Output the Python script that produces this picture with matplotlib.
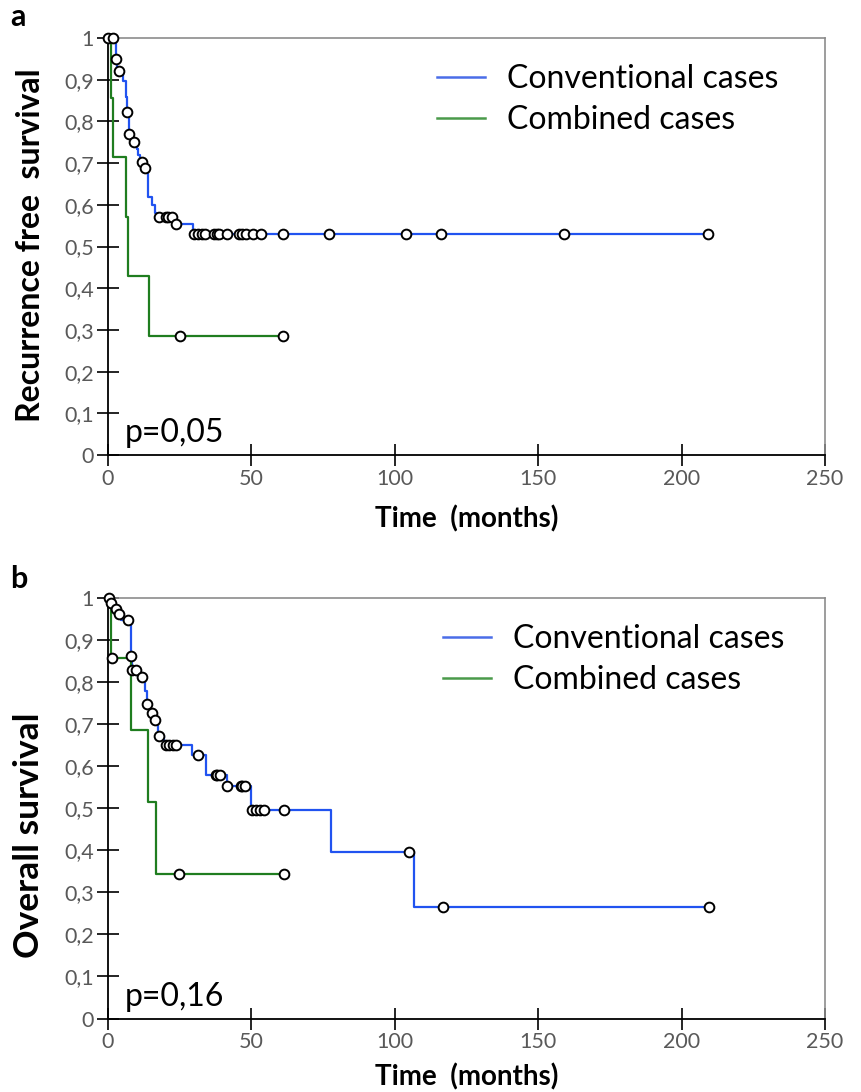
import numpy as np
import matplotlib
matplotlib.use('Agg')
import matplotlib.pyplot as plt

plt.rcParams['font.family'] = ['Lato', 'DejaVu Sans']

# --- panel a: recurrence free survival ---
a_conv_t = [0, 1.9, 2.7, 3.3, 5.4, 6.3, 6.5, 7.2, 8.0, 10.0, 10.6, 11.2, 12.5, 13.9, 15.3, 16.4, 17.0, 23.3, 29.5, 209.3]
a_conv_s = [1.0, 1.0, 0.949, 0.922, 0.897, 0.859, 0.822, 0.769, 0.751, 0.735, 0.719, 0.702, 0.688, 0.619, 0.600, 0.580, 0.571, 0.553, 0.529, 0.529]
a_conv_cens = [0, 1.7, 2.9, 3.9, 6.7, 7.4, 9.0, 11.7, 12.9, 17.7, 20.1, 21.0, 22.2, 23.6,
               29.9, 31.3, 32.6, 33.8, 36.9, 38.1, 38.7, 41.6, 45.7, 46.8, 48.0, 50.5, 53.5,
               61.0, 77.0, 103.8, 116.1, 159.0, 209.3]
a_comb_t = [0, 1.2, 1.8, 6.3, 6.9, 14.2, 61.0]
a_comb_s = [1.0, 0.857, 0.714, 0.571, 0.429, 0.286, 0.286]
a_comb_cens = [25.1, 61.0]

# --- panel b: overall survival ---
b_conv_t = [0, 0.8, 2.5, 3.5, 4.5, 8.0, 8.3, 10.5, 13.0, 13.5, 14.8, 16.0, 17.5, 19.5, 29.4, 34.0, 41.4, 49.8, 77.9, 106.7, 209.5]
b_conv_s = [1.0, 0.987, 0.974, 0.961, 0.947, 0.861, 0.828, 0.812, 0.778, 0.748, 0.727, 0.711, 0.671, 0.651, 0.627, 0.580, 0.552, 0.497, 0.397, 0.265, 0.265]
b_conv_cens = [0.2, 1.1, 2.9, 3.8, 6.9, 8.1, 8.4, 9.8, 11.7, 13.7, 15.2, 16.3, 17.8, 20.1, 21.2,
               22.6, 23.8, 31.5, 37.5, 38.1, 38.9, 41.6, 46.2, 46.8, 47.6, 50.2, 51.5, 52.9,
               54.4, 61.2, 104.8, 116.9, 209.5]
b_comb_t = [0, 1.0, 7.9, 14.0, 16.9, 61.2]
b_comb_s = [1.0, 0.857, 0.686, 0.514, 0.343, 0.343]
b_comb_cens = [1.3, 24.7, 61.2]

xticks = [0, 50, 100, 150, 200, 250]
yticks = [0, 0.1, 0.2, 0.3, 0.4, 0.5, 0.6, 0.7, 0.8, 0.9, 1.0]
ytick_labels = ['0', '0,1', '0,2', '0,3', '0,4', '0,5', '0,6', '0,7', '0,8', '0,9', '1']

BLUE = '#2153f0'
GREEN = '#1f7d1f'


def surv_at(t_steps, s_steps, t):
    idx = np.searchsorted(t_steps, t, side='right') - 1
    return np.asarray(s_steps)[idx]


def km_panel(ax, conv, comb, ylabel, ylab_size, ylab_y, xlab_pad, ptext, leg_x, leg_y):
    for (t, s, c), col, lab, lcol in [(conv, BLUE, 'Conventional cases', '#4a6de8'),
                                      (comb, GREEN, 'Combined cases', '#4a9a4a')]:
        ax.step(t, s, where='post', color=col, lw=1.6, zorder=2)
        ax.plot([], [], color=lcol, lw=1.8, label=lab)
    for (t, s, c) in [comb, conv]:
        ax.plot(c, surv_at(t, s, c), 'o', ms=7, mfc='white', mec='black', mew=1.4,
                clip_on=False, zorder=4)

    ax.set_xlim(0, 250)
    ax.set_ylim(0, 1)
    ax.set_xticks(xticks)
    ax.set_yticks(yticks)
    ax.set_yticklabels(ytick_labels)
    ax.tick_params(direction='inout', length=16, width=1.2, color='black',
                   labelsize=15.5, labelcolor='#595959', pad=2)
    for sp in ['left', 'bottom']:
        ax.spines[sp].set_color('black')
        ax.spines[sp].set_linewidth(1.3)
    for sp in ['top', 'right']:
        ax.spines[sp].set_color('#8c8c8c')
        ax.spines[sp].set_linewidth(1.2)
    ax.set_xlabel('Time  (months)', fontsize=20, fontweight='bold', labelpad=xlab_pad)
    ax.set_ylabel(ylabel, fontsize=ylab_size, fontweight='bold')
    ax.yaxis.set_label_coords(-0.088, ylab_y)
    ax.text(0.024, 0.052, ptext, transform=ax.transAxes, fontsize=23, va='center')
    ax.legend(loc='upper left', bbox_to_anchor=(leg_x, leg_y), frameon=False, fontsize=23,
              handlelength=1.5, handletextpad=0.7, labelspacing=0.33,
              borderpad=0, borderaxespad=0)


fig = plt.figure(figsize=(8.62, 10.92), dpi=100)
ax1 = fig.add_axes([0.1253, 0.5833, 0.8318, 0.3819])
ax2 = fig.add_axes([0.1253, 0.0673, 0.8318, 0.3851])

km_panel(ax1, (a_conv_t, a_conv_s, a_conv_cens), (a_comb_t, a_comb_s, a_comb_cens),
         'Recurrence free  survival', 23, 0.502, 12, 'p=0,05', 0.459, 0.937)
km_panel(ax2, (b_conv_t, b_conv_s, b_conv_cens), (b_comb_t, b_comb_s, b_comb_cens),
         'Overall survival', 25.5, 0.435, 8, 'p=0,16', 0.467, 0.937)

fig.text(0.012, 0.984, 'a', fontsize=22, fontweight='bold', va='center')
fig.text(0.012, 0.470, 'b', fontsize=22, fontweight='bold', va='center')

fig.savefig('out.png', dpi=100)
